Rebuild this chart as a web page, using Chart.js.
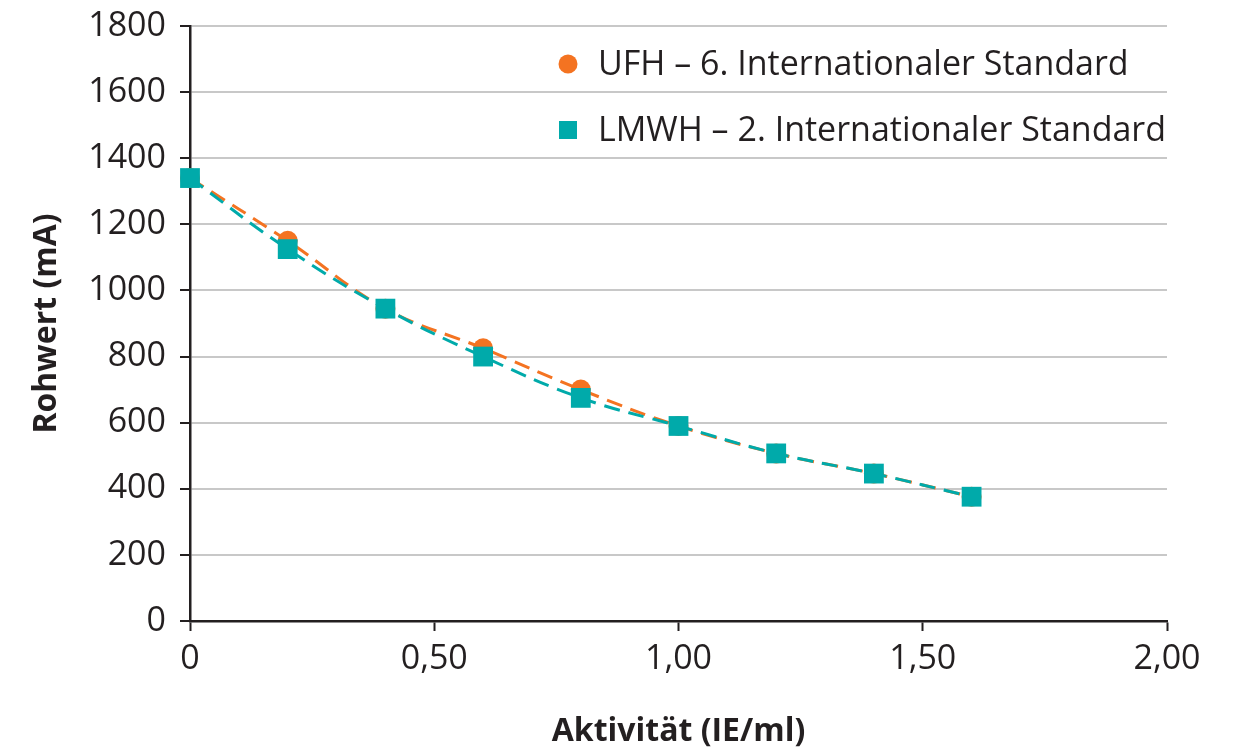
<!DOCTYPE html>
<html>
<head>
<meta charset="utf-8">
<script src="https://cdn.jsdelivr.net/npm/chart.js@4.4.1/dist/chart.umd.min.js"></script>
<style>
  html, body { margin: 0; padding: 0; background: #fff; }
  #wrap { width: 1233px; height: 749px; position: relative; }
</style>
</head>
<body>
<div id="wrap"><canvas id="chart" width="1233" height="749"></canvas></div>
<script>
// Werte
const activity = [0, 0.2, 0.4, 0.6, 0.8, 1.0, 1.2, 1.4, 1.6];
const ufhValues = [1340, 1150, 945, 825, 700, 590, 507, 446, 376];
const lmwhValues = [1340, 1125, 945, 800, 675, 590, 507, 446, 376];
const seriesLabels = ['UFH – 6. Internationaler Standard', 'LMWH – 2. Internationaler Standard'];
const xTickValues = [0, 0.5, 1.0, 1.5, 2.0];
const xTickLabels = ['0', '0,50', '1,00', '1,50', '2,00'];

const orange = '#f47321';
const teal = '#00aaaa';
const textColor = '#231f20';
const fontFamily = "'Open Sans', 'Noto Sans', sans-serif";

const toPoints = vals => vals.map((v, i) => ({ x: activity[i], y: v }));

// Legende oben rechts innerhalb der Zeichenfläche
const legendPlugin = {
  id: 'innerLegend',
  afterDraw(chart) {
    const ctx = chart.ctx;
    const x0 = 568, rows = [64, 130];
    ctx.save();
    ctx.font = '34px ' + fontFamily;
    ctx.textBaseline = 'middle';
    chart.data.datasets.forEach((ds, i) => {
      const y = rows[i];
      ctx.fillStyle = ds.pointBackgroundColor;
      if (ds.pointStyle === 'circle') {
        ctx.beginPath();
        ctx.arc(x0, y, 9.5, 0, Math.PI * 2);
        ctx.fill();
      } else {
        ctx.fillRect(x0 - 9, y - 9, 18, 18);
      }
      ctx.fillStyle = textColor;
      ctx.fillText(ds.label, 598, y + 1);
    });
    ctx.restore();
  }
};

new Chart(document.getElementById('chart').getContext('2d'), {
  type: 'line',
  data: {
    datasets: [
      {
        label: seriesLabels[0],
        data: toPoints(ufhValues),
        borderColor: orange,
        borderWidth: 3,
        borderDash: [16, 9],
        pointStyle: 'circle',
        pointRadius: 10,
        pointBackgroundColor: orange,
        pointBorderWidth: 0,
        tension: 0.4,
        clip: false,
        order: 1
      },
      {
        label: seriesLabels[1],
        data: toPoints(lmwhValues),
        borderColor: teal,
        borderWidth: 3,
        borderDash: [16, 9],
        pointStyle: 'rect',
        pointRadius: 14,
        pointBackgroundColor: teal,
        pointBorderWidth: 0,
        tension: 0.4,
        clip: false,
        order: 0
      }
    ]
  },
  options: {
    responsive: false,
    animation: false,
    layout: { padding: { top: 0, right: 66, left: 0, bottom: 0 } },
    plugins: {
      legend: { display: false },
      tooltip: { enabled: false }
    },
    scales: {
      x: {
        type: 'linear',
        min: 0,
        max: 2,
        afterFit: s => { s.height = 128; },
        afterBuildTicks: s => { s.ticks = xTickValues.map(v => ({ value: v })); },
        ticks: {
          callback: (v) => xTickLabels[xTickValues.indexOf(v)],
          font: { size: 34, family: fontFamily },
          color: textColor,
          padding: 8,
          maxRotation: 0
        },
        grid: {
          drawOnChartArea: false,
          drawTicks: true,
          tickLength: 10,
          tickColor: textColor,
          tickWidth: 2
        },
        border: { color: textColor, width: 2.5 },
        title: {
          display: true,
          text: 'Aktivität (IE/ml)',
          font: { size: 32, weight: 'bold', family: fontFamily, lineHeight: 1.05 },
          color: textColor,
          padding: { top: 16, bottom: 0 }
        }
      },
      y: {
        min: 0,
        max: 1800,
        afterFit: s => { s.width = 190; s.paddingTop = 26; },
        ticks: {
          stepSize: 200,
          callback: v => String(v),
          font: { size: 34, family: fontFamily },
          color: textColor,
          padding: 14
        },
        grid: {
          color: '#c8c8c8',
          lineWidth: 2,
          tickLength: 10,
          tickColor: textColor,
          tickWidth: 2
        },
        border: { color: textColor, width: 2.5 },
        title: {
          display: true,
          text: 'Rohwert (mA)',
          font: { size: 32, weight: 'bold', family: fontFamily },
          color: textColor,
          padding: { top: 28, bottom: 0 }
        }
      }
    }
  },
  plugins: [legendPlugin]
});
</script>
</body>
</html>
